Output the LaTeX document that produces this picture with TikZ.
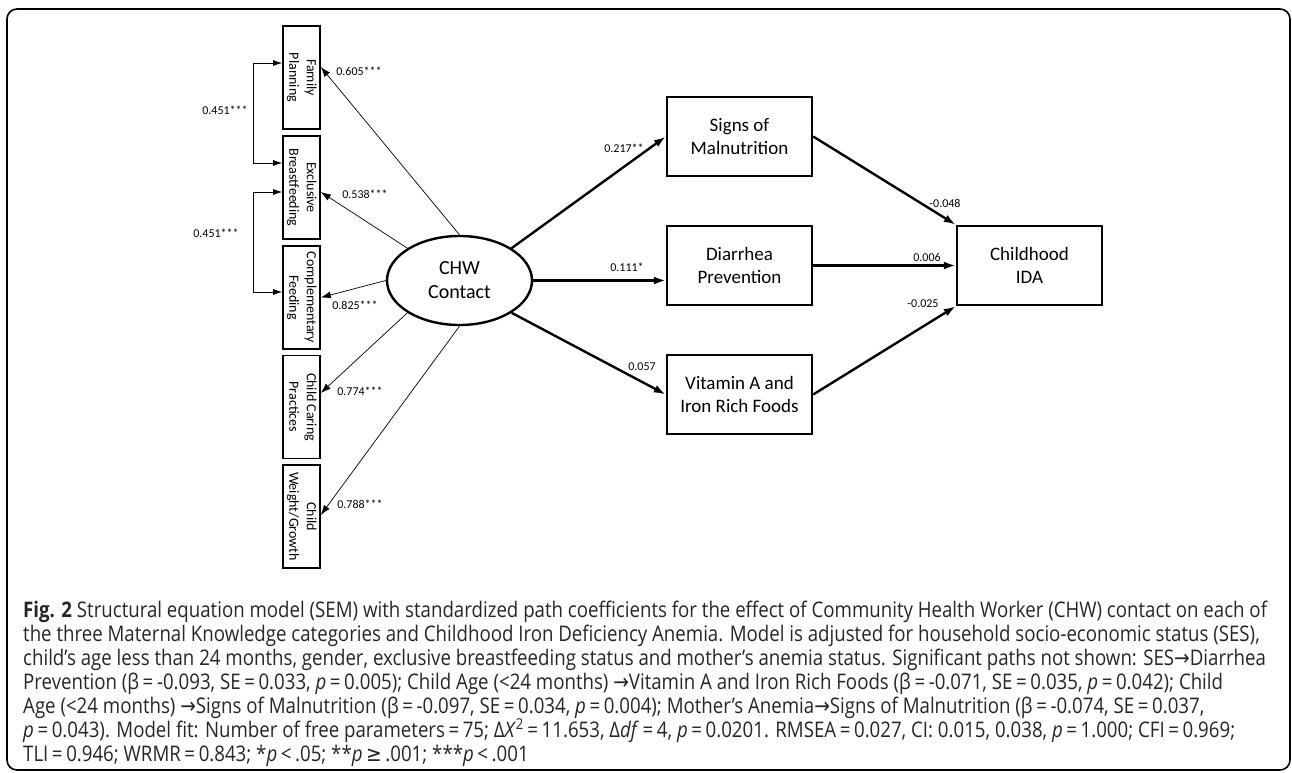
\documentclass[tikz,border=0pt]{standalone}
\usepackage{graphicx}
\usepackage{fontspec}
\setmainfont[FakeStretch=0.868]{Open Sans}
\newfontfamily\diafont{Carlito}
\newfontfamily\symfont[FakeStretch=0.868]{DejaVu Sans}
\usetikzlibrary{shapes.geometric,arrows.meta,positioning}

% vertical text for the indicator boxes
\newcommand{\vtext}[1]{\rotatebox{-90}{\begin{tabular}{@{}c@{}}#1\end{tabular}}}
\newcommand{\rarr}{{\symfont\char"2192}}
\newcommand{\geqsym}{{\symfont\char"2265}}

\tikzset{
  lbox/.style={draw, line width=1.6pt, minimum width=37pt, minimum height=103pt,
    inner sep=0pt, font=\diafont\fontsize{14}{17.5}\selectfont},
  rbox/.style={draw, line width=2.4pt, minimum width=145pt, minimum height=79pt,
    inner sep=0pt, align=center, font=\diafont\fontsize{19}{23}\selectfont},
  coef/.style={inner sep=0pt, font=\diafont\fontsize{12}{14}\selectfont},
  capline/.style={anchor=base west, inner sep=0pt, text=black!85,
    font=\fontsize{21.5}{24}\selectfont},
  loadarr/.style={-{Latex[length=10pt,width=7pt]}, line width=0.7pt},
  regr/.style={-{Latex[length=12pt,width=8pt]}, line width=2.4pt},
  covar/.style={{Latex[length=9pt,width=6pt]}-{Latex[length=9pt,width=6pt]}, line width=0.8pt},
}

\begin{document}
\begin{tikzpicture}[x=1pt,y=-1pt]

\useasboundingbox (0,0) rectangle (1292,773);
\draw[line width=1.6pt, rounded corners=10pt] (7,9) rectangle (1290,770);

% maternal knowledge indicators
\foreach \nm/\txt/\yy in {fp/{Family\\Planning}/77.5,
                          eb/{Exclusive\\Breastfeeding}/187.5,
                          cf/{Complementary\\Feeding}/297.5,
                          ccp/{Child Caring\\Practices}/407,
                          cwg/{Child\\Weight/Growth}/516.5}{%
  \node[lbox] (\nm) at (301.5,\yy) {\vtext{\txt}};
}

% latent factor
\node[ellipse, draw, line width=2.4pt, minimum width=145pt, minimum height=89pt,
  inner sep=0pt, align=center, font=\diafont\fontsize{20}{24}\selectfont]
  (chw) at (459.5,280.5) {CHW\\Contact};

% mediators and outcome
\node[rbox] (sm) at (739.5,136.5) {Signs of\\Malnutrition};
\node[rbox] (dp) at (739.5,265.5) {Diarrhea\\Prevention};
\node[rbox] (va) at (739.5,394.5) {Vitamin A and\\Iron Rich Foods};
\node[rbox] (ida) at (1029.5,265.5) {Childhood\\IDA};

% loadings
\draw[loadarr] (chw.north) -- ([yshift=10.5pt]fp.east);
\draw[loadarr] (chw.north west) -- ([yshift=-4.5pt]eb.east);
\draw[loadarr] (chw.west) -- (cf.east);
\draw[loadarr] (chw.south west) -- ([yshift=14pt]ccp.east);
\draw[loadarr] (chw.south) -- ([yshift=1.5pt]cwg.east);

% residual covariances
\draw[covar] ([yshift=14.5pt]fp.west) -- ++(-29,0) |- ([yshift=24.5pt]eb.west);
\draw[covar] ([yshift=-4.5pt]eb.west) -- ++(-29,0) |- ([yshift=5.5pt]cf.west);

% structural paths
\draw[regr] (chw.north east) -- (sm.west);
\draw[regr] (chw.east) -- (chw.east -| dp.west);
\draw[regr] (chw.south east) -- (va.west);
\draw[regr] (sm.east) -- (ida.north west);
\draw[regr] (dp.east) -- (ida.west);
\draw[regr] (va.east) -- (ida.south west);

% coefficients
\node[coef] (k605) at (359,71) {0.605***};
\node[coef] (k538) at (365,194) {0.538***};
\node[coef] (k825) at (355,305) {0.825***};
\node[coef] (k774) at (360,391) {0.774***};
\node[coef] (k788) at (360,504) {0.788***};
\node[coef] (c451a) at (225,110) {0.451***};
\node[coef] (c451b) at (216,233) {0.451***};
\node[coef] (k217) at (624,148) {0.217**};
\node[coef] (k111) at (627,267) {0.111*};
\node[coef] (k057) at (642,367) {0.057};
\node[coef] (k048) at (945,203) {-0.048};
\node[coef] (k006) at (927,257) {0.006};
\node[coef] (k025) at (923,304) {-0.025};

% caption, one node per printed line
\node[capline] (cap1) at (23,617) {\textbf{Fig. 2} Structural equation model (SEM) with standardized path coefficients for the effect of Community Health Worker (CHW) contact on each of};
\node[capline] (cap2) at (23,641) {the three Maternal Knowledge categories and Childhood Iron Deficiency Anemia. Model is adjusted for household socio-economic status (SES),};
\node[capline] (cap3) at (23,665) {child’s age less than 24 months, gender, exclusive breastfeeding status and mother’s anemia status. Significant paths not shown: SES\rarr Diarrhea};
\node[capline] (cap4) at (23,689) {Prevention (β\,=\,-0.093, SE\,=\,0.033, \textit{p}\,=\,0.005); Child Age (<24 months) \rarr Vitamin A and Iron Rich Foods (β\,=\,-0.071, SE\,=\,0.035, \textit{p}\,=\,0.042); Child};
\node[capline] (cap5) at (23,713) {Age (<24 months) \rarr Signs of Malnutrition (β\,=\,-0.097, SE\,=\,0.034, \textit{p}\,=\,0.004); Mother’s Anemia\rarr Signs of Malnutrition (β\,=\,-0.074, SE\,=\,0.037,};
\node[capline] (cap6) at (23,737) {\textit{p}\,=\,0.043). Model fit: Number of free parameters\,=\,75; Δ\textit{X}\textsuperscript{2}\,=\,11.653, Δ\textit{df}\,=\,4, \textit{p}\,=\,0.0201. RMSEA\,=\,0.027, CI: 0.015, 0.038, \textit{p}\,=\,1.000; CFI\,=\,0.969;};
\node[capline] (cap7) at (23,761) {TLI\,=\,0.946; WRMR\,=\,0.843; *\textit{p}\,<\,.05; **\textit{p}\,\geqsym\,.001; ***\textit{p}\,<\,.001};

\end{tikzpicture}
\end{document}
